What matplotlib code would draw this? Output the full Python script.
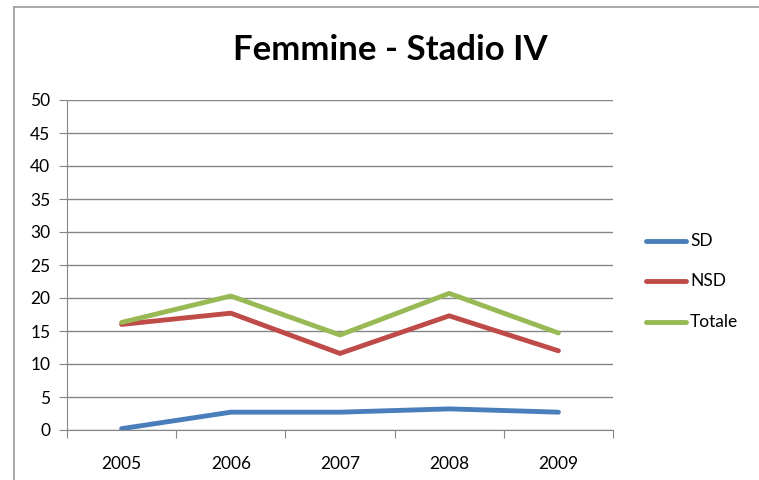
import matplotlib.pyplot as plt
from matplotlib.lines import Line2D

# dati
anni = ["2005", "2006", "2007", "2008", "2009"]
sd = [0.2, 2.7, 2.7, 3.2, 2.7]
nsd = [16.0, 17.7, 11.6, 17.3, 12.0]
totale = [16.3, 20.3, 14.4, 20.7, 14.7]

plt.rcParams['font.family'] = ['Lato', 'DejaVu Sans']

fig = plt.figure(figsize=(7.59, 4.8), dpi=100)
ax = fig.add_axes([67 / 759, 1 - 430 / 480, (613 - 67) / 759, 330 / 480])

x = range(len(anni))
ax.plot(x, sd, color="#4a7ebb", lw=3.5, label="SD", solid_capstyle="round")
ax.plot(x, nsd, color="#be4b48", lw=3.5, label="NSD", solid_capstyle="round")
ax.plot(x, totale, color="#98b954", lw=3.5, label="Totale", solid_capstyle="round")

ax.set_xlim(-0.5, len(anni) - 0.5)
ax.set_ylim(0, 50)
ax.set_yticks(range(0, 51, 5))
ax.set_xticks([i - 0.5 for i in range(len(anni) + 1)], minor=False)
ax.set_xticklabels([])
ax.set_xticks(list(x), minor=True)
ax.set_xticklabels(anni, minor=True)
ax.tick_params(axis="x", which="minor", length=0, labelsize=12.5, pad=19)
ax.tick_params(axis="x", which="major", length=6, color="#868686")
ax.tick_params(axis="y", length=6, color="#868686", labelsize=12.5, pad=6)
ax.grid(axis="y", color="#868686", lw=1)
ax.set_axisbelow(True)
for s in ["top", "right"]:
    ax.spines[s].set_visible(False)
ax.spines["left"].set_color("#868686")
ax.spines["bottom"].set_color("#868686")

fig.text(390 / 759, 1 - 50 / 480, "Femmine - Stadio IV", ha="center", va="center",
         fontsize=25, fontweight="bold")

# legenda
righe = [("SD", "#4a7ebb", 241), ("NSD", "#be4b48", 281), ("Totale", "#98b954", 322)]
for nome, col, yy in righe:
    fig.add_artist(Line2D([646 / 759, 686 / 759], [1 - yy / 480, 1 - yy / 480],
                          color=col, lw=3.5, solid_capstyle="round"))
    fig.text(690 / 759, 1 - yy / 480, nome, va="center", fontsize=12.5)

# bordo
fig.add_artist(Line2D([14 / 759, 14 / 759], [0, 1 - 7 / 480], color="#9a9a9a", lw=1.2))
fig.add_artist(Line2D([14 / 759, 1], [1 - 7 / 480, 1 - 7 / 480], color="#9a9a9a", lw=1.2))

plt.savefig("out.png", dpi=100)
